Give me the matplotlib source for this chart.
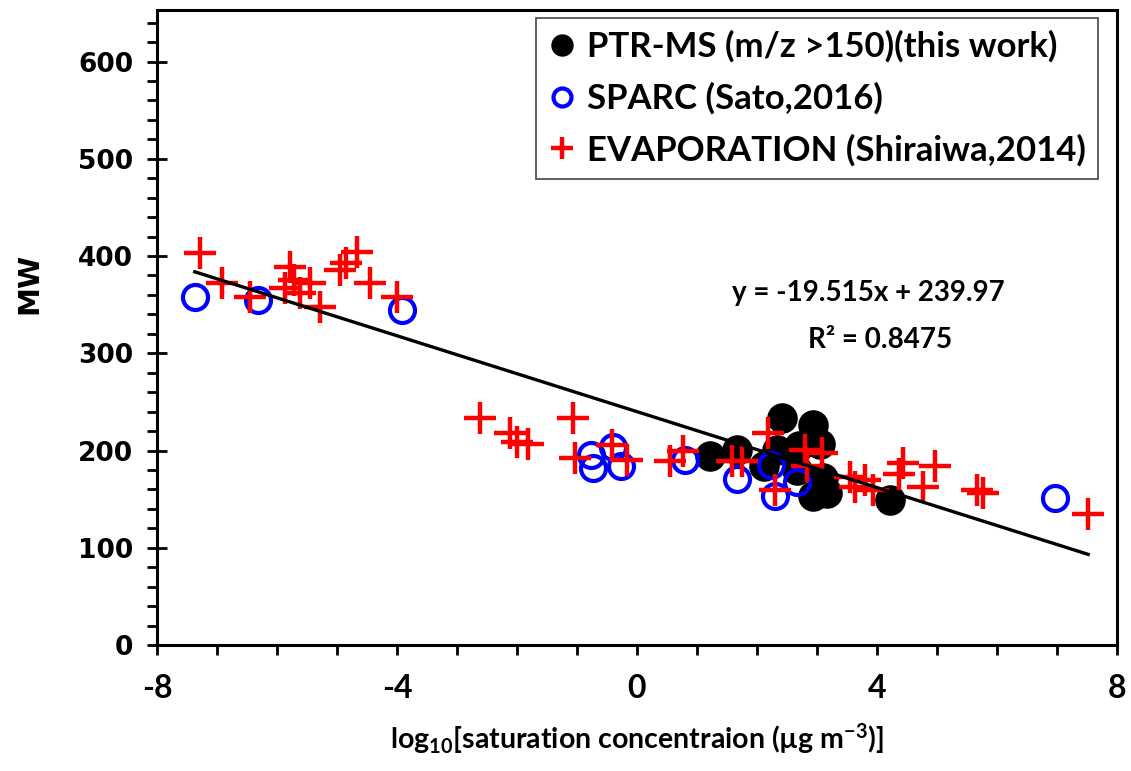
import numpy as np
import matplotlib.pyplot as plt
from matplotlib.ticker import MultipleLocator

plt.rcParams['mathtext.default'] = 'regular'
plt.rcParams['axes.unicode_minus'] = False

# PTR-MS (m/z > 150), this work
ptr_x = [1.22, 1.66, 2.11, 2.33, 2.41, 2.66, 2.70, 2.94, 3.05, 3.10, 2.94, 3.16, 4.22]
ptr_y = [194, 201, 184, 201, 233, 180, 205, 226, 207, 172, 153, 156, 149]

# SPARC (Sato, 2016)
sparc_x = [-7.37, -6.31, -3.92, -0.76, -0.73, -0.40, -0.26, 0.80, 1.66, 2.24, 2.30, 2.66, 6.97]
sparc_y = [358, 355, 345, 195, 182, 204, 184, 190, 171, 185, 153, 168, 151]

# EVAPORATION (Shiraiwa, 2014)
evap_x = [-7.28, -6.92, -6.45, -5.78, -5.87, -5.72, -5.62, -5.45, -5.28, -4.95, -4.85, -4.67,
          -4.45, -4.00,
          -2.62, -2.12, -2.00, -1.81, -1.06, -1.03, -0.42, -0.17, 0.55, 0.77,
          1.58, 1.75, 2.19, 2.30, 2.80, 3.08, 2.83, 3.55, 3.63, 3.80, 3.94, 4.36, 4.44,
          4.77, 4.97, 5.66, 5.77, 7.52]
evap_y = [403, 372, 358, 389, 367, 375, 362, 372, 348, 386, 393, 404,
          372, 358,
          233, 218, 209, 207, 233, 192, 206, 190, 189, 200,
          189, 189, 218, 159, 201, 197, 184, 173, 163, 170, 159, 176, 187,
          163, 184, 159, 156, 135]

# linear trendline reported on the chart
slope = -19.515
intercept = 239.97
r2 = 0.8475

narrow = ['Lato', 'DejaVu Sans']

fig = plt.figure(figsize=(11.31, 7.71), dpi=100)
ax = fig.add_axes([0.1388, 0.1634, 0.8488, 0.8236])

ax.plot(ptr_x, ptr_y, 'o', color='black', markersize=21, linestyle='none',
        label='PTR-MS (m/z >150)(this work)', zorder=2)
ax.plot(sparc_x, sparc_y, 'o', markerfacecolor='none', markeredgecolor='#0000ff',
        markeredgewidth=3.0, markersize=18, linestyle='none',
        label='SPARC (Sato,2016)', zorder=3)
ax.plot(evap_x, evap_y, '+', color='#ff0000', markeredgewidth=3.2, markersize=23,
        linestyle='none', label='EVAPORATION (Shiraiwa,2014)', zorder=4)

# trendline over the whole data range
all_x = np.array(ptr_x + sparc_x + evap_x)
tx = np.array([all_x.min(), all_x.max()])
ax.plot(tx, slope * tx + intercept, color='black', lw=2.4, zorder=5)

ax.text(6.13, 362, f'y = {slope}x + {intercept}', ha='right', va='center',
        fontsize=20, fontweight='bold', family=narrow)
ax.text(4.05, 314, f'R² = {r2}', ha='center', va='center',
        fontsize=20, fontweight='bold', family=narrow)

ax.set_xlim(-8, 8)
ax.set_ylim(0, 653)
ax.xaxis.set_major_locator(MultipleLocator(4))
ax.xaxis.set_minor_locator(MultipleLocator(1))
ax.yaxis.set_major_locator(MultipleLocator(100))
ax.yaxis.set_minor_locator(MultipleLocator(20))

for s in ax.spines.values():
    s.set_linewidth(2.2)

ax.tick_params(axis='x', which='both', direction='out', length=7, width=2, pad=14)
ax.tick_params(axis='y', which='major', direction='inout', length=14, width=2, pad=10)
ax.tick_params(axis='y', which='minor', direction='out', length=7, width=2)

for lab in ax.get_xticklabels():
    lab.set_family(narrow)
    lab.set_fontsize(23)
    lab.set_fontweight('bold')
for lab in ax.get_yticklabels():
    lab.set_family('DejaVu Sans')
    lab.set_fontsize(19)
    lab.set_fontweight('bold')

ax.set_ylabel('MW', fontsize=21, fontweight='bold', family='DejaVu Sans')
ax.yaxis.set_label_coords(-0.118, 0.57)
ax.set_xlabel(r'log$_{10}$[saturation concentraion (µg m$^{-3}$)]', fontsize=20.5,
              fontweight='bold', family=narrow, labelpad=13)

leg = ax.legend(loc='upper right', bbox_to_anchor=(0.98, 0.987), markerscale=0.72,
                fancybox=False, edgecolor='#444444', framealpha=1,
                prop={'family': narrow, 'size': 25, 'weight': 'bold'},
                handlelength=0.8, handletextpad=0.3, labelspacing=0.55,
                borderpad=0.35, borderaxespad=0)
leg.get_frame().set_linewidth(1.2)

fig.savefig('out.png', dpi=100)
